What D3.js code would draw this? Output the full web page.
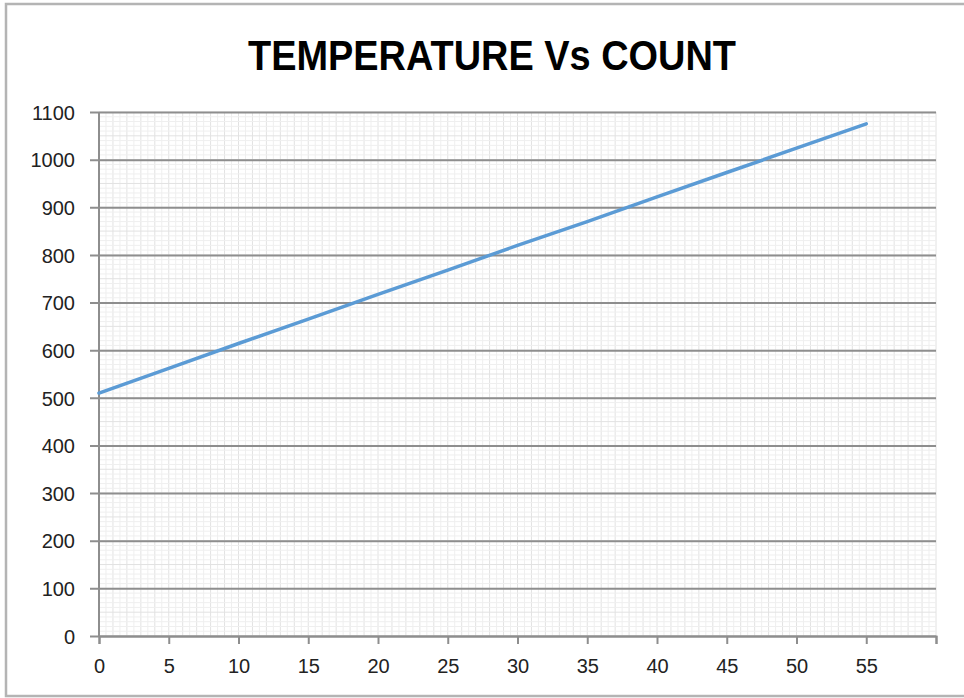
<!DOCTYPE html>
<html>
<head>
<meta charset="utf-8">
<script src="https://cdn.jsdelivr.net/npm/d3@7"></script>
<style>
  html, body { margin: 0; padding: 0; background: #fff; }
  svg { display: block; }
</style>
</head>
<body>
<div id="chart"></div>
<script>
// Temperature vs count line chart, Excel-like styling

const temperature = [0, 5, 10, 15, 20, 25, 30, 35, 40, 45, 50, 55];
const count = [510, 562, 614, 665, 717, 768, 820, 870, 922, 973, 1024, 1075];
const xTicks = [0, 5, 10, 15, 20, 25, 30, 35, 40, 45, 50, 55, 60];
const xLabels = [0, 5, 10, 15, 20, 25, 30, 35, 40, 45, 50, 55];
const yTicks = [0, 100, 200, 300, 400, 500, 600, 700, 800, 900, 1000, 1100];
const title = 'TEMPERATURE Vs COUNT';

(function() {
  const W = 964, H = 698;
  const plot = { left: 99, right: 936, top: 112, bottom: 636 };
  const labelFont = '"Liberation Sans Narrow", "Arial Narrow", "Liberation Sans", sans-serif';

  const svg = d3.select('#chart')
    .append('svg')
    .attr('width', W)
    .attr('height', H);

  // outer chart border (right edge falls outside the picture)
  svg.append('rect')
    .attr('x', 6).attr('y', 4)
    .attr('width', W + 10).attr('height', 692)
    .attr('fill', '#fff')
    .attr('stroke', '#b4b4b4')
    .attr('stroke-width', 2.5);

  const x = d3.scaleLinear().domain([0, 60]).range([plot.left, plot.right]);
  const y = d3.scaleLinear().domain([0, 1100]).range([plot.bottom, plot.top]);

  // minor grid
  const minorX = d3.range(0, 60.01, 0.5);
  const minorY = d3.range(0, 1100.01, 10);
  svg.append('g')
    .selectAll('line')
    .data(minorX)
    .enter()
    .append('line')
    .attr('x1', d => x(d)).attr('x2', d => x(d))
    .attr('y1', plot.top).attr('y2', plot.bottom)
    .attr('stroke', d => d % 1 === 0 ? '#e2e2e2' : '#efefef')
    .attr('stroke-width', 1);
  svg.append('g')
    .selectAll('line')
    .data(minorY)
    .enter()
    .append('line')
    .attr('x1', plot.left).attr('x2', plot.right)
    .attr('y1', d => y(d)).attr('y2', d => y(d))
    .attr('stroke', d => d % 50 === 0 ? '#e2e2e2' : '#efefef')
    .attr('stroke-width', 1);

  // major horizontal gridlines (with tick stubs on the left)
  const yAxis = d3.axisLeft(y)
    .tickValues(yTicks)
    .tickSize(-(plot.right - plot.left) - 9)
    .tickFormat(d3.format('d'));

  const gy = svg.append('g')
    .attr('transform', `translate(${plot.left - 9}, 0)`)
    .call(yAxis);
  gy.select('.domain').remove();
  gy.selectAll('line')
    .attr('x1', 0)
    .attr('x2', plot.right - plot.left + 9)
    .attr('stroke', '#8e8e8e')
    .attr('stroke-width', 2);
  gy.selectAll('text')
    .attr('x', -15)
    .attr('dy', '0.36em')
    .style('font-family', labelFont)
    .style('font-size', '20px')
    .style('fill', '#222');

  // y axis line
  svg.append('line')
    .attr('x1', plot.left).attr('x2', plot.left)
    .attr('y1', plot.top).attr('y2', plot.bottom)
    .attr('stroke', '#8e8e8e')
    .attr('stroke-width', 2);

  // x axis
  const xAxis = d3.axisBottom(x)
    .tickValues(xTicks)
    .tickSize(8)
    .tickPadding(15)
    .tickFormat(d => xLabels.includes(d) ? d : '');

  const gx = svg.append('g')
    .attr('transform', `translate(0, ${plot.bottom})`)
    .call(xAxis);
  gx.select('.domain')
    .attr('stroke', '#8e8e8e')
    .attr('stroke-width', 2);
  gx.selectAll('line')
    .attr('stroke', '#8e8e8e')
    .attr('stroke-width', 2);
  gx.selectAll('text')
    .style('font-family', labelFont)
    .style('font-size', '20px')
    .style('fill', '#222');

  // data line
  const line = d3.line()
    .x((d, i) => x(temperature[i]))
    .y(d => y(d));

  svg.append('path')
    .datum(count)
    .attr('d', line)
    .attr('fill', 'none')
    .attr('stroke', '#5b9bd5')
    .attr('stroke-width', 3.5)
    .attr('stroke-linecap', 'round')
    .attr('stroke-linejoin', 'round');

  // title
  svg.append('text')
    .attr('x', 492)
    .attr('y', 70)
    .attr('text-anchor', 'middle')
    .attr('textLength', 488)
    .attr('lengthAdjust', 'spacingAndGlyphs')
    .style('font-family', labelFont)
    .style('font-weight', 'bold')
    .style('font-size', '42px')
    .style('fill', '#000')
    .text(title);
})();
</script>
</body>
</html>
